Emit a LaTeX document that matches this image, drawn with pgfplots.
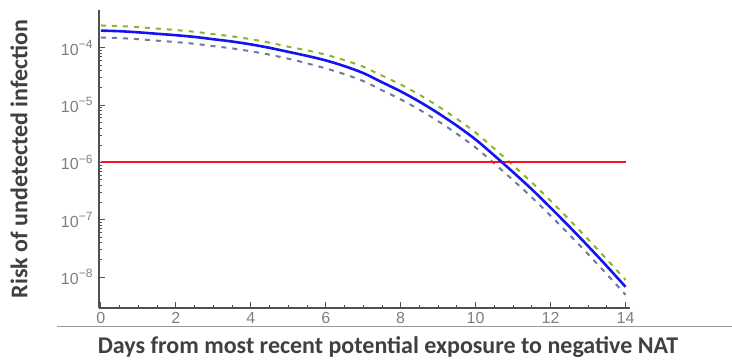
\documentclass[border=0pt]{standalone}
\usepackage{fontspec}
\setmainfont{Liberation Sans}
\newfontfamily\labfont{Carlito}
\usepackage{pgfplots}
\pgfplotsset{compat=1.18}
\definecolor{bl}{RGB}{20,20,240}
\definecolor{gr}{RGB}{140,180,40}
\definecolor{gy}{RGB}{110,120,160}
\definecolor{rd}{RGB}{250,20,30}
\definecolor{ax}{RGB}{80,80,80}
\definecolor{tl}{RGB}{125,125,135}
\definecolor{lab}{RGB}{64,64,64}
\newcommand{\tp}[1]{10\raisebox{0.42em}{\fontsize{12}{12}\selectfont −#1}}
\begin{document}
\begin{tikzpicture}[x=1pt,y=1pt]
\useasboundingbox (0,0) rectangle (732,364);
\draw[color=black!40, line width=1pt] (57,37) -- (732,37);
\node[font=\labfont\bfseries\fontsize{24}{25}\selectfont, text=lab, rotate=90] at (19,205) {Risk of undetected infection};
\node[font=\labfont\bfseries\fontsize{24}{25}\selectfont, text=lab] at (388,17) {Days from most recent potential exposure to negative NAT};
\begin{axis}[at={(99pt,56pt)}, anchor=south west, scale only axis,
  width=531pt, height=298pt, ymode=log,
  xmin=-0.05, xmax=14.12, ymin=2.88e-9, ymax=4.57e-4,
  axis x line*=bottom, axis y line*=left,
  axis line style={-, color=ax, line width=1.1pt},
  tick align=inside,
  tick style={color=ax, line width=0.8pt},
  major tick length=6pt, minor tick length=3pt,
  xtick={0,2,...,14}, xticklabels={0,2,4,6,8,10,12,14},
  minor x tick num=3,
  ytick={1e-8,1e-7,1e-6,1e-5,1e-4},
  yticklabels={\tp{8},\tp{7},\tp{6},\tp{5},\tp{4}},
  ticklabel style={font=\fontsize{16}{17}\selectfont, text=tl},
  yticklabel style={xshift=-3pt},
  xticklabel style={yshift=-1pt},
  every axis plot/.append style={smooth, tension=0.5},
]
\addplot[gy, line width=2pt, dash pattern=on 5pt off 6pt] coordinates {
(0,1.514e-4) (0.5,1.479e-4) (1,1.413e-4) (1.5,1.334e-4) (2,1.259e-4) (2.5,1.175e-4)
(3,1.072e-4) (3.5,9.77e-5) (4,8.71e-5) (4.5,7.59e-5) (5,6.46e-5) (5.5,5.37e-5)
(6,4.37e-5) (6.5,3.47e-5) (7,2.63e-5) (7.5,1.820e-5) (8,1.259e-5) (8.5,8.32e-6)
(9,5.25e-6) (9.5,3.16e-6) (10,1.820e-6) (10.5,9.55e-7) (11,4.90e-7) (11.5,2.455e-7)
(12,1.175e-7) (12.5,5.50e-8) (13,2.512e-8) (13.5,1.122e-8) (14,4.90e-9)};
\addplot[gr, line width=2pt, dash pattern=on 5pt off 6pt] coordinates {
(0,2.455e-4) (0.5,2.399e-4) (1,2.291e-4) (1.5,2.163e-4) (2,2.042e-4) (2.5,1.905e-4)
(3,1.738e-4) (3.5,1.585e-4) (4,1.413e-4) (4.5,1.230e-4) (5,1.047e-4) (5.5,9.02e-5)
(6,7.59e-5) (6.5,6.10e-5) (7,4.68e-5) (7.5,3.27e-5) (8,2.291e-5) (8.5,1.514e-5)
(9,9.55e-6) (9.5,5.75e-6) (10,3.31e-6) (10.5,1.738e-6) (11,8.91e-7) (11.5,4.47e-7)
(12,2.138e-7) (12.5,1.0e-7) (13,4.57e-8) (13.5,2.042e-8) (14,8.91e-9)};
\addplot[rd, line width=2pt] coordinates {(0,1e-6) (14,1e-6)};
\addplot[bl, line width=2.6pt] coordinates {
(0,1.995e-4) (0.5,1.950e-4) (1,1.862e-4) (1.5,1.758e-4) (2,1.660e-4) (2.5,1.549e-4)
(3,1.413e-4) (3.5,1.288e-4) (4,1.148e-4) (4.5,1.0e-4) (5,8.51e-5) (5.5,7.24e-5)
(6,6.03e-5) (6.5,4.79e-5) (7,3.63e-5) (7.5,2.51e-5) (8,1.738e-5) (8.5,1.148e-5)
(9,7.24e-6) (9.5,4.37e-6) (10,2.51e-6) (10.5,1.318e-6) (11,6.76e-7) (11.5,3.39e-7)
(12,1.622e-7) (12.5,7.59e-8) (13,3.47e-8) (13.5,1.549e-8) (14,6.76e-9)};
\end{axis}
\end{tikzpicture}
\end{document}
